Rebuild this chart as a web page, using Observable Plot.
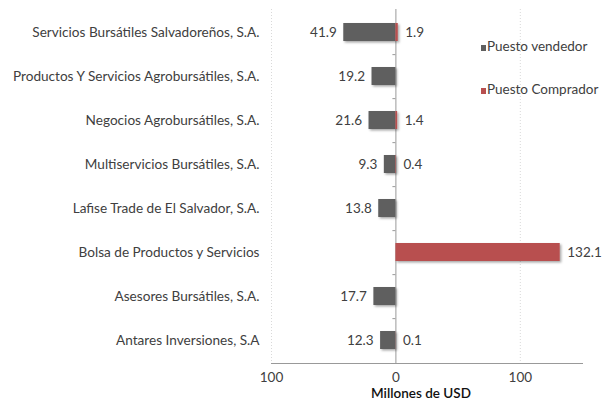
<!DOCTYPE html>
<html><head><meta charset="utf-8">
<script src="https://cdn.jsdelivr.net/npm/d3@7"></script>
<script src="https://cdn.jsdelivr.net/npm/@observablehq/plot@0.6"></script>
<style>
body{margin:0;background:#fff;font-family:Lato,"Open Sans",sans-serif;}
#wrap{position:relative;width:602px;height:406px;}
.leg{position:absolute;left:481px;font-size:13.5px;color:#404040;white-space:nowrap;}
.leg span{display:inline-block;width:5px;height:6px;margin-right:1px;}
</style></head>
<body><div id="wrap"></div>
<script>
const categories = ["Servicios Bursátiles Salvadoreños, S.A.","Productos Y Servicios Agrobursátiles, S.A.","Negocios Agrobursátiles, S.A.","Multiservicios Bursátiles, S.A.","Lafise Trade de El Salvador, S.A.","Bolsa de Productos y Servicios","Asesores Bursátiles, S.A.","Antares Inversiones, S.A"];
const vendedor = [41.9, 19.2, 21.6, 9.3, 13.8, null, 17.7, 12.3];
const comprador = [1.9, null, 1.4, 0.4, null, 132.1, null, 0.1];
const xTicks = [-100, 0, 100];
const seriesNames = ["Puesto vendedor","Puesto Comprador"];
const colors = ["#5f5f5f","#b84f4f"];

const sellers = categories.map((c,i)=>({c, v: vendedor[i]})).filter(d=>d.v!=null);
const buyers = categories.map((c,i)=>({c, v: comprador[i]})).filter(d=>d.v!=null);
const bounds = categories.slice(0, -1);

const step = 354/8;
const plot = Plot.plot({
  width: 602, height: 406,
  marginLeft: 271, marginRight: 20, marginTop: 9, marginBottom: 43,
  x: {domain: [-100, 150], ticks: xTicks, tickFormat: d => String(Math.abs(d)), label: null},
  y: {domain: categories, paddingInner: 0.59, paddingOuter: 0.295, label: null},
  style: {fontFamily: "Lato, 'Open Sans', sans-serif", fontSize: "13px", color: "#404040", background: "#fff"},
  marks: [
    Plot.ruleX([-100, 100], {stroke: "#d9d9d9", strokeDasharray: "1,2"}),
    Plot.frame({anchor: "bottom", stroke: "#999"}),
    Plot.ruleX([0], {stroke: "#999"}),
    Plot.ruleY(bounds, {y: d => d, x1: -2.4, x2: 0, dy: step/2, stroke: "#999"}),
    Plot.barX(sellers, {y: "c", x1: d => -d.v, x2: 0, fill: colors[0]}),
    Plot.barX(buyers, {y: "c", x1: 0, x2: "v", fill: colors[1]}),
    Plot.text(sellers, {y: "c", x: d => -d.v, text: d => d.v.toFixed(1), dx: -7, textAnchor: "end", fill: "#404040", fontSize: 13.5}),
    Plot.text(buyers, {y: "c", x: "v", text: d => d.v.toFixed(1), dx: 7, textAnchor: "start", fill: "#404040", fontSize: 13.5}),
    Plot.axisY({tickSize: 0, tickPadding: 12, label: null, fill: "#404040", fontSize: 13.6}),
    Plot.axisX({tickSize: 0, tickPadding: 9, label: null, fill: "#404040", ticks: xTicks, tickFormat: d => String(Math.abs(d)), fontSize: 13.5}),
    Plot.text(["Millones de USD"], {frameAnchor: "bottom", dy: 34, dx: -6, fill: "#111", fontWeight: 600, fontSize: 13.5})
  ]
});
const svg = d3.select(plot);
svg.insert("defs", ":first-child").append("filter").attr("id","sh").attr("x","-20%").attr("y","-40%").attr("width","150%").attr("height","200%")
  .append("feDropShadow").attr("dx",1.5).attr("dy",1.5).attr("stdDeviation",1.2).attr("flood-color","#000").attr("flood-opacity",0.35);
svg.selectAll('g[aria-label="bar"]').attr("filter","url(#sh)");
const wrap = document.getElementById("wrap");
wrap.appendChild(plot);
[[seriesNames[0], colors[0], 38],[seriesNames[1], colors[1], 81]].forEach(([n,c,t])=>{
  const d = document.createElement("div");
  d.className = "leg"; d.style.top = t + "px";
  d.innerHTML = `<span style="background:${c}"></span>${n}`;
  wrap.appendChild(d);
});
</script></body></html>
